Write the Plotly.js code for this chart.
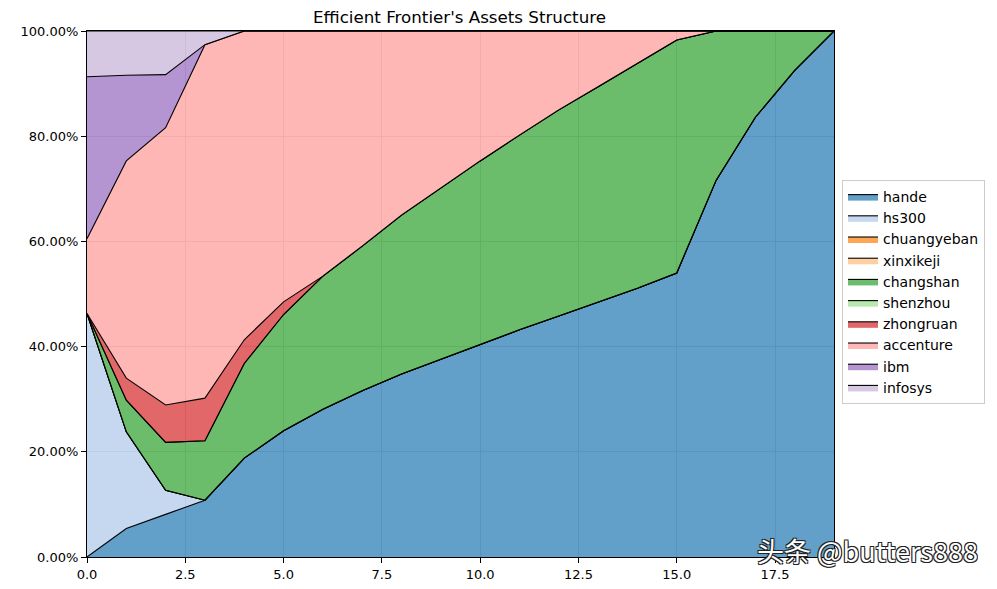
<!DOCTYPE html>
<html>
<head>
<meta charset="utf-8">
<script src="https://cdn.plot.ly/plotly-3.0.1.min.js"></script>
<style>html,body{margin:0;padding:0;background:#fff;}#chart{width:997px;height:589px;}</style>
</head>
<body>
<div id="chart"></div>
<script>
// Points along the efficient frontier (index)
const xIndex = [0,1,2,3,4,5,6,7,8,9,10,11,12,13,14,15,16,17,18,19];

// Weights (%) of each asset
const hande       = [0, 5.4, 8.1, 10.8, 18.8, 24.0, 28.1, 31.6, 34.8, 37.6, 40.5, 43.2, 45.8, 48.5, 51.1, 54.0, 71.6, 83.6, 92.5, 100];
const hs300       = [46.3, 18.4, 4.6, 0, 0, 0, 0, 0, 0, 0, 0, 0, 0, 0, 0, 0, 0, 0, 0, 0];
const chuangyeban = [0, 0, 0, 0, 0, 0, 0, 0, 0, 0, 0, 0, 0, 0, 0, 0, 0, 0, 0, 0];
const xinxikeji   = [0, 0, 0, 0, 0, 0, 0, 0, 0, 0, 0, 0, 0, 0, 0, 0, 0, 0, 0, 0];
const changshan   = [0, 6.0, 9.1, 11.3, 18.0, 22.1, 25.3, 27.5, 30.2, 32.6, 34.8, 37.0, 39.2, 40.9, 42.8, 44.3, 28.4, 16.4, 7.5, 0];
const shenzhou    = [0, 0, 0, 0, 0, 0, 0, 0, 0, 0, 0, 0, 0, 0, 0, 0, 0, 0, 0, 0];
const zhongruan   = [0, 4.2, 7.1, 8.1, 4.5, 2.4, 0, 0, 0, 0, 0, 0, 0, 0, 0, 0, 0, 0, 0, 0];
const accenture   = [14.2, 41.3, 52.7, 67.2, 58.7, 51.5, 46.6, 40.9, 35.0, 29.8, 24.7, 19.8, 15.0, 10.6, 6.1, 1.7, 0, 0, 0, 0];
const ibm         = [30.8, 16.3, 10.1, 0, 0, 0, 0, 0, 0, 0, 0, 0, 0, 0, 0, 0, 0, 0, 0, 0];
const infosys     = [8.7, 8.4, 8.3, 2.6, 0, 0, 0, 0, 0, 0, 0, 0, 0, 0, 0, 0, 0, 0, 0, 0];

const assetNames = ['hande','hs300','chuangyeban','xinxikeji','changshan','shenzhou','zhongruan','accenture','ibm','infosys'];
const assetValues = [hande, hs300, chuangyeban, xinxikeji, changshan, shenzhou, zhongruan, accenture, ibm, infosys];
const assetColors = ['31,119,180','174,199,232','255,127,14','255,187,120','44,160,44','152,223,138','214,39,40','255,152,150','148,103,189','197,176,213'];

const xTicks = [0, 2.5, 5, 7.5, 10, 12.5, 15, 17.5];
const yTicks = [0, 0.2, 0.4, 0.6, 0.8, 1.0];

const traces = assetNames.map((name, i) => ({
  type: 'scatter',
  mode: 'lines',
  name: name,
  x: xIndex,
  y: assetValues[i].map(v => v / 100),
  stackgroup: 'one',
  fill: 'tonexty',
  fillcolor: 'rgba(' + assetColors[i] + ',0.7)',
  line: {color: '#000000', width: 1.1},
  hoverinfo: 'x+y+name'
}));

const layout = {
  width: 997,
  height: 589,
  margin: {l: 87, r: 163, t: 31, b: 32},
  paper_bgcolor: '#ffffff',
  plot_bgcolor: '#ffffff',
  font: {family: 'DejaVu Sans', size: 13, color: '#000000'},
  title: {
    text: "Efficient Frontier's Assets Structure",
    font: {family: 'DejaVu Sans', size: 16.7, color: '#000000'},
    x: 0.4609, xanchor: 'center', xref: 'container',
    y: 0.971, yanchor: 'middle', yref: 'container'
  },
  xaxis: {
    range: [0, 19],
    tickvals: xTicks,
    tickformat: '.1f',
    ticks: 'outside', ticklen: 5, tickcolor: '#000',
    showline: true, linecolor: '#000', linewidth: 1, mirror: true,
    showgrid: true, gridcolor: 'rgba(176,176,176,0.45)', gridwidth: 1,
    zeroline: false,
    tickfont: {family: 'DejaVu Sans', size: 13}
  },
  yaxis: {
    range: [0, 1],
    tickvals: yTicks,
    tickformat: '.2%',
    ticks: 'outside', ticklen: 5, tickcolor: '#000',
    showline: true, linecolor: '#000', linewidth: 1, mirror: true,
    showgrid: true, gridcolor: 'rgba(176,176,176,0.45)', gridwidth: 1,
    zeroline: false,
    tickfont: {family: 'DejaVu Sans', size: 13}
  },
  legend: {
    x: 1.0107, xanchor: 'left',
    y: 0.7167, yanchor: 'top',
    traceorder: 'normal',
    bgcolor: '#ffffff',
    bordercolor: '#cccccc', borderwidth: 1,
    font: {family: 'DejaVu Sans', size: 14, color: '#000'},
    itemwidth: 30
  },
  showlegend: true,
  annotations: [{
    text: '头条 @butters888',
    xref: 'paper', yref: 'paper',
    x: 1.195, xanchor: 'right',
    y: 0.0, yanchor: 'bottom', yshift: -15,
    showarrow: false,
    font: {family: 'Noto Sans CJK SC', size: 27, color: '#ffffff',
           shadow: '1px 1px 0 #222, -1px -1px 0 #222, 1px -1px 0 #222, -1px 1px 0 #222'}
  }]
};

Plotly.newPlot('chart', traces, layout, {displayModeBar: false, staticPlot: true});
</script>
</body>
</html>
